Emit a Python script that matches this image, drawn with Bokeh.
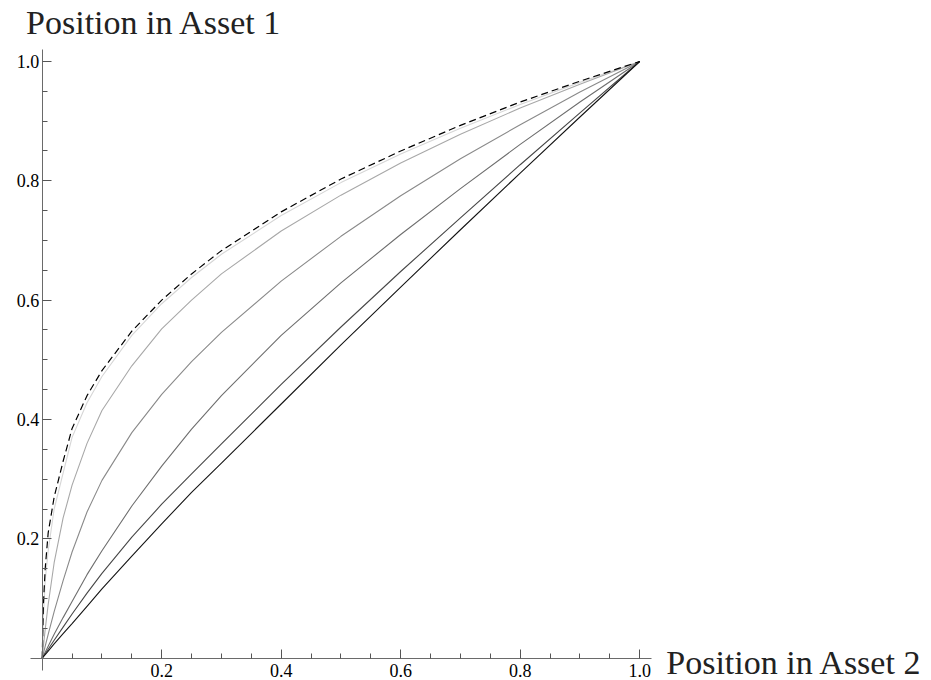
from bokeh.plotting import figure
from bokeh.models import LinearAxis, FixedTicker, Label, NumeralTickFormatter
from bokeh.embed import file_html
from bokeh.resources import INLINE

# Position in Asset 2 (shared sample points for every trajectory)
asset2 = [0, 0.002, 0.005, 0.01, 0.02, 0.035, 0.05, 0.075, 0.1, 0.15,
          0.2, 0.25, 0.3, 0.4, 0.5, 0.6, 0.7, 0.8, 0.9, 1.0]

# Position in Asset 1 for each trajectory, from the upper bound down
bound = [0, 0.09, 0.15, 0.21, 0.27, 0.33, 0.385, 0.44, 0.482, 0.548,
         0.600, 0.644, 0.683, 0.748, 0.803, 0.850, 0.893, 0.932, 0.967, 1.0]
traj_1 = [0, 0.07, 0.13, 0.18, 0.25, 0.31, 0.37, 0.428, 0.472, 0.541,
          0.594, 0.638, 0.677, 0.742, 0.797, 0.845, 0.888, 0.928, 0.965, 1.0]
traj_2 = [0, 0.02, 0.048, 0.09, 0.16, 0.235, 0.29, 0.36, 0.415, 0.49,
          0.552, 0.600, 0.644, 0.716, 0.776, 0.830, 0.878, 0.922, 0.962, 1.0]
traj_3 = [0, 0.008, 0.02, 0.04, 0.078, 0.13, 0.178, 0.245, 0.298, 0.378,
          0.442, 0.497, 0.546, 0.632, 0.707, 0.775, 0.837, 0.894, 0.949, 1.0]
traj_4 = [0, 0.004, 0.01, 0.02, 0.04, 0.068, 0.095, 0.14, 0.18, 0.255,
          0.322, 0.384, 0.44, 0.541, 0.629, 0.710, 0.787, 0.861, 0.932, 1.0]
traj_5 = [0, 0.003, 0.0075, 0.015, 0.03, 0.052, 0.074, 0.109, 0.142, 0.203,
          0.258, 0.309, 0.359, 0.459, 0.555, 0.648, 0.738, 0.827, 0.914, 1.0]
traj_6 = [0, 0.0025, 0.006, 0.012, 0.024, 0.041, 0.058, 0.087, 0.116, 0.171,
          0.225, 0.278, 0.327, 0.426, 0.525, 0.622, 0.718, 0.813, 0.907, 1.0]

trajectories = [traj_1, traj_2, traj_3, traj_4, traj_5, traj_6]
traj_colors = ["#d6d6d6", "#a8a8a8", "#8a8a8a", "#6e6e6e", "#474747", "#141414"]

major_ticks = [0.2, 0.4, 0.6, 0.8, 1.0]
minor_ticks = [0.05, 0.1, 0.15, 0.25, 0.3, 0.35, 0.45, 0.5, 0.55,
               0.65, 0.7, 0.75, 0.85, 0.9, 0.95]

SERIF = "Liberation Serif"

# The frame fills the whole canvas; the ranges leave room around the unit
# square for the tick labels and the two axis captions.
p = figure(width=931, height=680,
           x_range=(-0.0698, 1.4884), y_range=(-0.0374, 1.1022),
           x_axis_location=None, y_axis_location=None,
           toolbar_location=None, output_backend="svg",
           min_border=0)
p.outline_line_color = None
p.grid.visible = False
p.background_fill_color = "white"
p.border_fill_color = "white"


def crossing_axis(axis):
    # axis drawn through the origin, limited to the padded unit interval
    axis.fixed_location = 0
    axis.bounds = (-0.02, 1.02)
    axis.ticker = FixedTicker(ticks=major_ticks, minor_ticks=minor_ticks)
    axis.formatter = NumeralTickFormatter(format="0.0")
    axis.axis_line_color = "#6a6a6a"
    axis.axis_line_width = 1
    axis.major_tick_line_color = "#555555"
    axis.minor_tick_line_color = "#555555"
    axis.major_tick_in = 9
    axis.major_tick_out = 0
    axis.minor_tick_in = 5
    axis.minor_tick_out = 0
    axis.major_label_text_font = SERIF
    axis.major_label_text_font_size = "18px"
    axis.major_label_text_color = "black"
    return axis


xaxis = crossing_axis(LinearAxis())
xaxis.major_label_standoff = 6
p.add_layout(xaxis, "below")

yaxis = crossing_axis(LinearAxis())
yaxis.major_label_standoff = 3
p.add_layout(yaxis, "left")

for ys, color in zip(trajectories, traj_colors):
    p.line(asset2, ys, line_color=color, line_width=1.1)

p.line(asset2, bound, line_color="black", line_width=1.2, line_dash="7 4")

p.add_layout(Label(x=-0.027, y=1.065, text="Position in Asset 1",
                   text_font=SERIF, text_font_size="34px",
                   text_baseline="alphabetic", text_color="#222222"))
p.add_layout(Label(x=1.0445, y=-0.007, text="Position in Asset 2",
                   text_font=SERIF, text_font_size="34px",
                   text_baseline="alphabetic", text_color="#222222"))

open("out.html", "w").write(file_html(p, INLINE))
